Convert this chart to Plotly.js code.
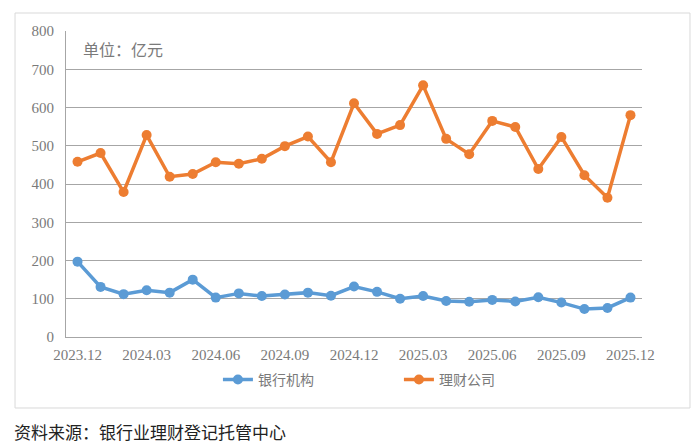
<!DOCTYPE html>
<html>
<head>
<meta charset="utf-8">
<script src="https://cdn.plot.ly/plotly-3.0.1.min.js"></script>
<style>
  body { margin: 0; background: #fff; }
  #chart { width: 699px; height: 448px; }
</style>
</head>
<body>
<div id="chart"></div>
<script>
var months = ['2023.12', '2024.01', '2024.02', '2024.03', '2024.04', '2024.05', '2024.06',
  '2024.07', '2024.08', '2024.09', '2024.10', '2024.11', '2024.12', '2025.01', '2025.02',
  '2025.03', '2025.04', '2025.05', '2025.06', '2025.07', '2025.08', '2025.09', '2025.10',
  '2025.11', '2025.12'];
var tickLabels = ['2023.12', '2024.03', '2024.06', '2024.09', '2024.12', '2025.03', '2025.06', '2025.09', '2025.12'];

var bankValues = [197, 131, 112, 122, 116, 150, 103, 114, 107, 111, 116, 108, 132,
  118, 100, 107, 94, 92, 97, 93, 104, 90, 73, 76, 103];
var wmcValues = [458, 481, 379, 528, 419, 426, 457, 453, 466, 499, 524, 457, 611,
  531, 554, 658, 518, 478, 565, 549, 439, 523, 423, 364, 580];

var grey = '#7a7a7a';
var serif = '"Liberation Serif", "Times New Roman", serif';
var cjk = '"Noto Sans CJK SC", sans-serif';

var traces = [
  {
    x: months, y: bankValues, name: '银行机构', type: 'scatter', mode: 'lines+markers',
    line: {color: '#5b9bd5', width: 3.5}, marker: {color: '#5b9bd5', size: 10}
  },
  {
    x: months, y: wmcValues, name: '理财公司', type: 'scatter', mode: 'lines+markers',
    line: {color: '#ed7d31', width: 3.5}, marker: {color: '#ed7d31', size: 10}
  }
];

var layout = {
  width: 699,
  height: 448,
  margin: {l: 66, r: 57, t: 31, b: 111},
  paper_bgcolor: '#fff',
  plot_bgcolor: '#fff',
  showlegend: true,
  xaxis: {
    type: 'category',
    range: [-0.5, months.length - 0.5],
    tickvals: tickLabels,
    ticktext: tickLabels,
    showgrid: false,
    showline: true,
    linecolor: '#a6a6a6',
    linewidth: 1,
    ticks: '',
    ticklabelstandoff: 4,
    tickfont: {family: serif, size: 15, color: grey}
  },
  yaxis: {
    range: [0, 800],
    dtick: 100,
    showgrid: true,
    gridcolor: '#a6a6a6',
    gridwidth: 1,
    zeroline: false,
    showline: true,
    linecolor: '#a6a6a6',
    linewidth: 1,
    ticks: '',
    ticklabelstandoff: 8,
    tickfont: {family: serif, size: 15, color: grey}
  },
  legend: {
    orientation: 'h',
    x: 0.578, xanchor: 'center',
    y: -0.14, yanchor: 'middle',
    font: {family: cjk, size: 14, color: grey},
    entrywidth: 136
  },
  shapes: [
    {
      type: 'rect', xref: 'paper', yref: 'paper',
      x0: -0.0885, x1: 1.0833, y0: -0.232, y1: 1.0588,
      line: {color: '#d9d9d9', width: 1}
    }
  ],
  annotations: [
    {
      text: '单位：亿元', xref: 'paper', yref: 'paper', x: 0.026, y: 0.94,
      xanchor: 'left', yanchor: 'middle', showarrow: false,
      font: {family: cjk, size: 16, color: grey}
    },
    {
      text: '资料来源：银行业理财登记托管中心', xref: 'paper', yref: 'paper',
      x: -0.093, y: -0.31, xanchor: 'left', yanchor: 'middle', showarrow: false,
      font: {family: cjk, size: 17, color: '#222'}
    }
  ]
};

Plotly.newPlot('chart', traces, layout, {displayModeBar: false});
</script>
</body>
</html>
